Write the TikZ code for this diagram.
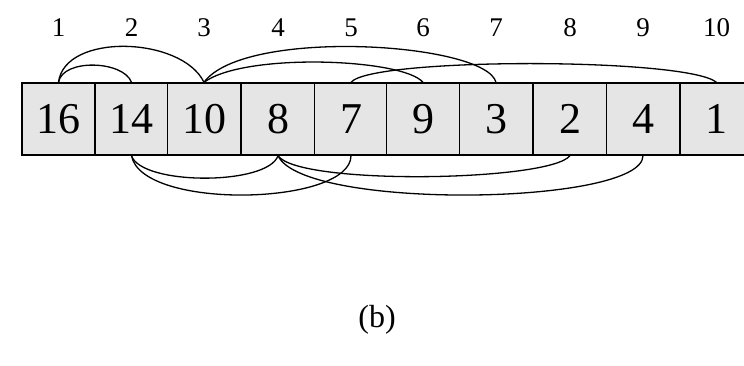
\documentclass[tikz,border=0pt]{standalone}
\usepackage{fontspec}
\setmainfont{Liberation Serif}
\begin{document}
\begin{tikzpicture}[x=1pt,y=-1pt,
  cell/.style={draw=black,line width=1.3pt,fill=gray!20,minimum width=73pt,minimum height=72pt,inner sep=0pt,font=\fontsize{44}{44}\selectfont},
  idx/.style={inner sep=0pt,font=\fontsize{27}{27}\selectfont},
  arc/.style={line width=1.3pt}]
\useasboundingbox (0,0) rectangle (744,366);
\foreach \i/\x/\v in {1/58.5/16,2/131.5/14,3/204/10,4/278/8,5/351/7,6/423/9,7/496/3,8/570/2,9/643/4,10/716.5/1}{
  \node[cell] (c\i) at (\x,119) {\v};
  \node[idx] (n\i) at (\x,28) {\i};
}
% top arcs
\draw[arc] (c1.north) .. controls +(4,-24) and +(-8,-22) .. (c2.north);
\draw[arc] (c1.north) .. controls +(6,-50) and +(-22,-46) .. (c3.north);
\draw[arc] (c3.north) .. controls +(40,-30) and +(-20,-24) .. (c6.north);
\draw[arc] (c3.north) .. controls +(40,-55) and +(-10,-40) .. (c7.north);
\draw[arc] (c5.north) .. controls +(20,-25) and +(-30,-25) .. (c10.north);
% bottom arcs
\draw[arc] (c2.south) .. controls +(10,30) and +(-10,30) .. (c4.south);
\draw[arc] (c2.south) .. controls +(10,55) and +(0,50) .. (c5.south);
\draw[arc] (c4.south) .. controls +(20,30) and +(-20,26) .. (c8.south);
\draw[arc] (c4.south) .. controls +(25,55) and +(0,50) .. (c9.south);
\node[inner sep=0pt,font=\fontsize{32}{32}\selectfont] (lab) at (377,320) {(b)};
\end{tikzpicture}
\end{document}
